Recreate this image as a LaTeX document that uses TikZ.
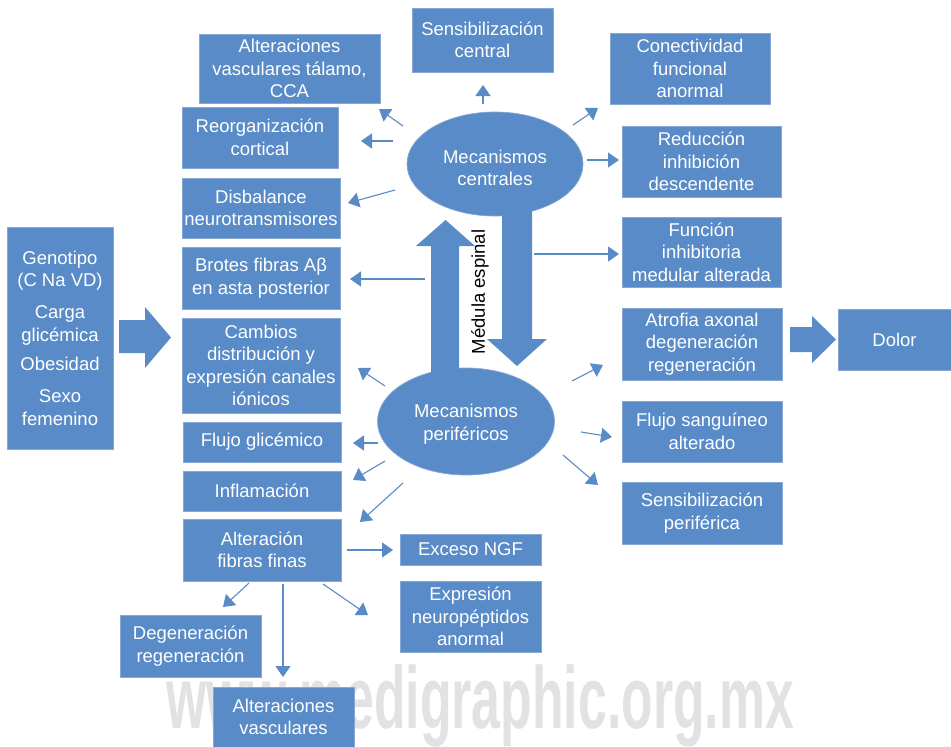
\documentclass[tikz,border=0pt]{standalone}
\usepackage{fontspec}
\setmainfont{Liberation Sans}
\usetikzlibrary{arrows.meta,shapes.geometric}
\definecolor{bx}{RGB}{88,139,199}
\definecolor{bxl}{RGB}{135,168,212}
\definecolor{wmk}{RGB}{226,226,228}
\begin{document}
\begin{tikzpicture}[x=1pt,y=-1pt,
  box/.style={rectangle, fill=bx, draw=bxl, line width=0.7pt, text=white, align=center,
    inner sep=0pt, font=\fontsize{18.5}{22.5}\selectfont},
  ell/.style={ellipse, fill=bx, draw=bxl, line width=0.7pt, inner sep=0pt},
  elltext/.style={text=white, align=center, inner sep=0pt, font=\fontsize{18.5}{22.5}\selectfont},
  arr/.style={draw=bx, line width=1.1pt, -{Triangle[length=11pt,width=15pt]}},
  bigarrow/.style={fill=bx, draw=none}]
\useasboundingbox (0,0) rectangle (951,747);
\fill[white] (0,0) rectangle (951,747);

% watermark
\node[anchor=base, text=wmk, inner sep=0pt, font=\fontsize{88}{88}\selectfont\bfseries] (wm) at (480,728)
  {\scalebox{0.588}[1]{www.medigraphic.org.mx}};

% boxes
\node[box, minimum width=106, minimum height=222] (gen) at (60,338)
  {Genotipo\\(C Na VD)\\[9.5pt]Carga\\glicémica\\[7pt]Obesidad\\[9.5pt]Sexo\\femenino};
\node[box, minimum width=181, minimum height=69] (avt) at (289.5,68.5) {Alteraciones\\vasculares tálamo,\\CCA};
\node[box, minimum width=141, minimum height=64] (sc) at (482.5,40) {Sensibilización\\central};
\node[box, minimum width=160, minimum height=71] (cfa) at (690,68.5) {Conectividad\\funcional\\anormal};
\node[box, minimum width=156, minimum height=61] (reo) at (260,137.5) {Reorganización\\cortical};
\node[box, minimum width=159, minimum height=71] (red) at (701.5,161.5) {Reducción\\inhibición\\descendente};
\node[box, minimum width=158, minimum height=60] (dis) at (261,208) {Disbalance\\neurotransmisores};
\node[box, minimum width=159, minimum height=70] (fim) at (701.5,252) {Función\\inhibitoria\\medular alterada};
\node[box, minimum width=158, minimum height=62] (bro) at (261,278) {Brotes fibras Aβ\\en asta posterior};
\node[box, minimum width=158, minimum height=95] (cam) at (261,365.5) {Cambios\\distribución y\\expresión canales\\iónicos};
\node[box, minimum width=160, minimum height=72] (atr) at (702,344) {Atrofia axonal\\degeneración\\regeneración};
\node[box, minimum width=113, minimum height=61] (dol) at (894.5,339.5) {Dolor};
\node[box, minimum width=160, minimum height=61] (fsa) at (702,431.5) {Flujo sanguíneo\\alterado};
\node[box, minimum width=160, minimum height=62] (spe) at (702,513) {Sensibilización\\periférica};
\node[box, minimum width=158, minimum height=40] (fgl) at (262,442) {Flujo glicémico};
\node[box, minimum width=158, minimum height=40] (inf) at (262,491) {Inflamación};
\node[box, minimum width=158, minimum height=62] (aff) at (262,550) {Alteración\\fibras finas};
\node[box, minimum width=141, minimum height=31] (ngf) at (470.5,549.5) {Exceso NGF};
\node[box, minimum width=141, minimum height=71] (exn) at (470.5,616.5) {Expresión\\neuropéptidos\\anormal};
\node[box, minimum width=141, minimum height=62] (deg) at (190.5,646) {Degeneración\\regeneración};
\node[box, minimum width=141, minimum height=60] (avs) at (283.5,717) {Alteraciones\\vasculares};

% ellipses
\node[ell, minimum width=176, minimum height=104] (cen) at (495,164) {};
\node[elltext] (centxt) at ([yshift=-4pt]cen.center) {Mecanismos\\centrales};
\node[ell, minimum width=177, minimum height=107] (per) at (466,421.5) {};

% big arrows
\fill[bigarrow] (119,320) -- (145,320) -- (145,307) -- (171,337.5) -- (145,368) -- (145,353) -- (119,353) -- cycle;
\fill[bigarrow] (790,327) -- (812,327) -- (812,316) -- (836,339.5) -- (812,363) -- (812,352) -- (790,352) -- cycle;
\fill[bigarrow] (431,378) -- (431,246) -- (416,246) -- (445.5,220) -- (475,246) -- (459,246) -- (459,378) -- cycle;
\fill[bigarrow] (502,205) -- (532,205) -- (532,339) -- (547,339) -- (517,366) -- (487,339) -- (502,339) -- cycle;
\node[elltext] (pertxt) at ([yshift=-2.5pt]per.center) {Mecanismos\\periféricos};
\node[rotate=90, text=black, inner sep=0pt, font=\fontsize{18.5}{22.5}\selectfont] (med) at (480,292) {Médula espinal};

% connector end points
\coordinate (s1) at (483,104);  \coordinate (e1) at (483,85);
\coordinate (s2) at (403,126);  \coordinate (e2) at (379,109);
\coordinate (s3) at (393,141);  \coordinate (e3) at (361,141);
\coordinate (s4) at (395,190);  \coordinate (e4) at (348,203);
\coordinate (s5) at (573,125);  \coordinate (e5) at (598,108);
\coordinate (s6) at (587,160);  \coordinate (e6) at (619,160);
\coordinate (s7) at (534,254);  \coordinate (e7) at (619,254);
\coordinate (s8) at (425,279);  \coordinate (e8) at (350,279);
\coordinate (s9) at (385,386);  \coordinate (e9) at (358,368);
\coordinate (s10) at (572,381); \coordinate (e10) at (603,365);
\coordinate (s11) at (581,432); \coordinate (e11) at (612,437);
\coordinate (s12) at (563,455); \coordinate (e12) at (598,485);
\coordinate (s13) at (378,443); \coordinate (e13) at (353,443);
\coordinate (s14) at (385,461); \coordinate (e14) at (353,480);
\coordinate (s15) at (403,483); \coordinate (e15) at (360,522);
\coordinate (s16) at (347,550); \coordinate (e16) at (393,550);
\coordinate (s17) at (249,583); \coordinate (e17) at (223,607);
\coordinate (s18) at (283,584); \coordinate (e18) at (283,677);
\coordinate (s19) at (323,584); \coordinate (e19) at (368,615);

\foreach \i in {1,...,19} {\draw[arr] (s\i) -- (e\i);}
\end{tikzpicture}
\end{document}
